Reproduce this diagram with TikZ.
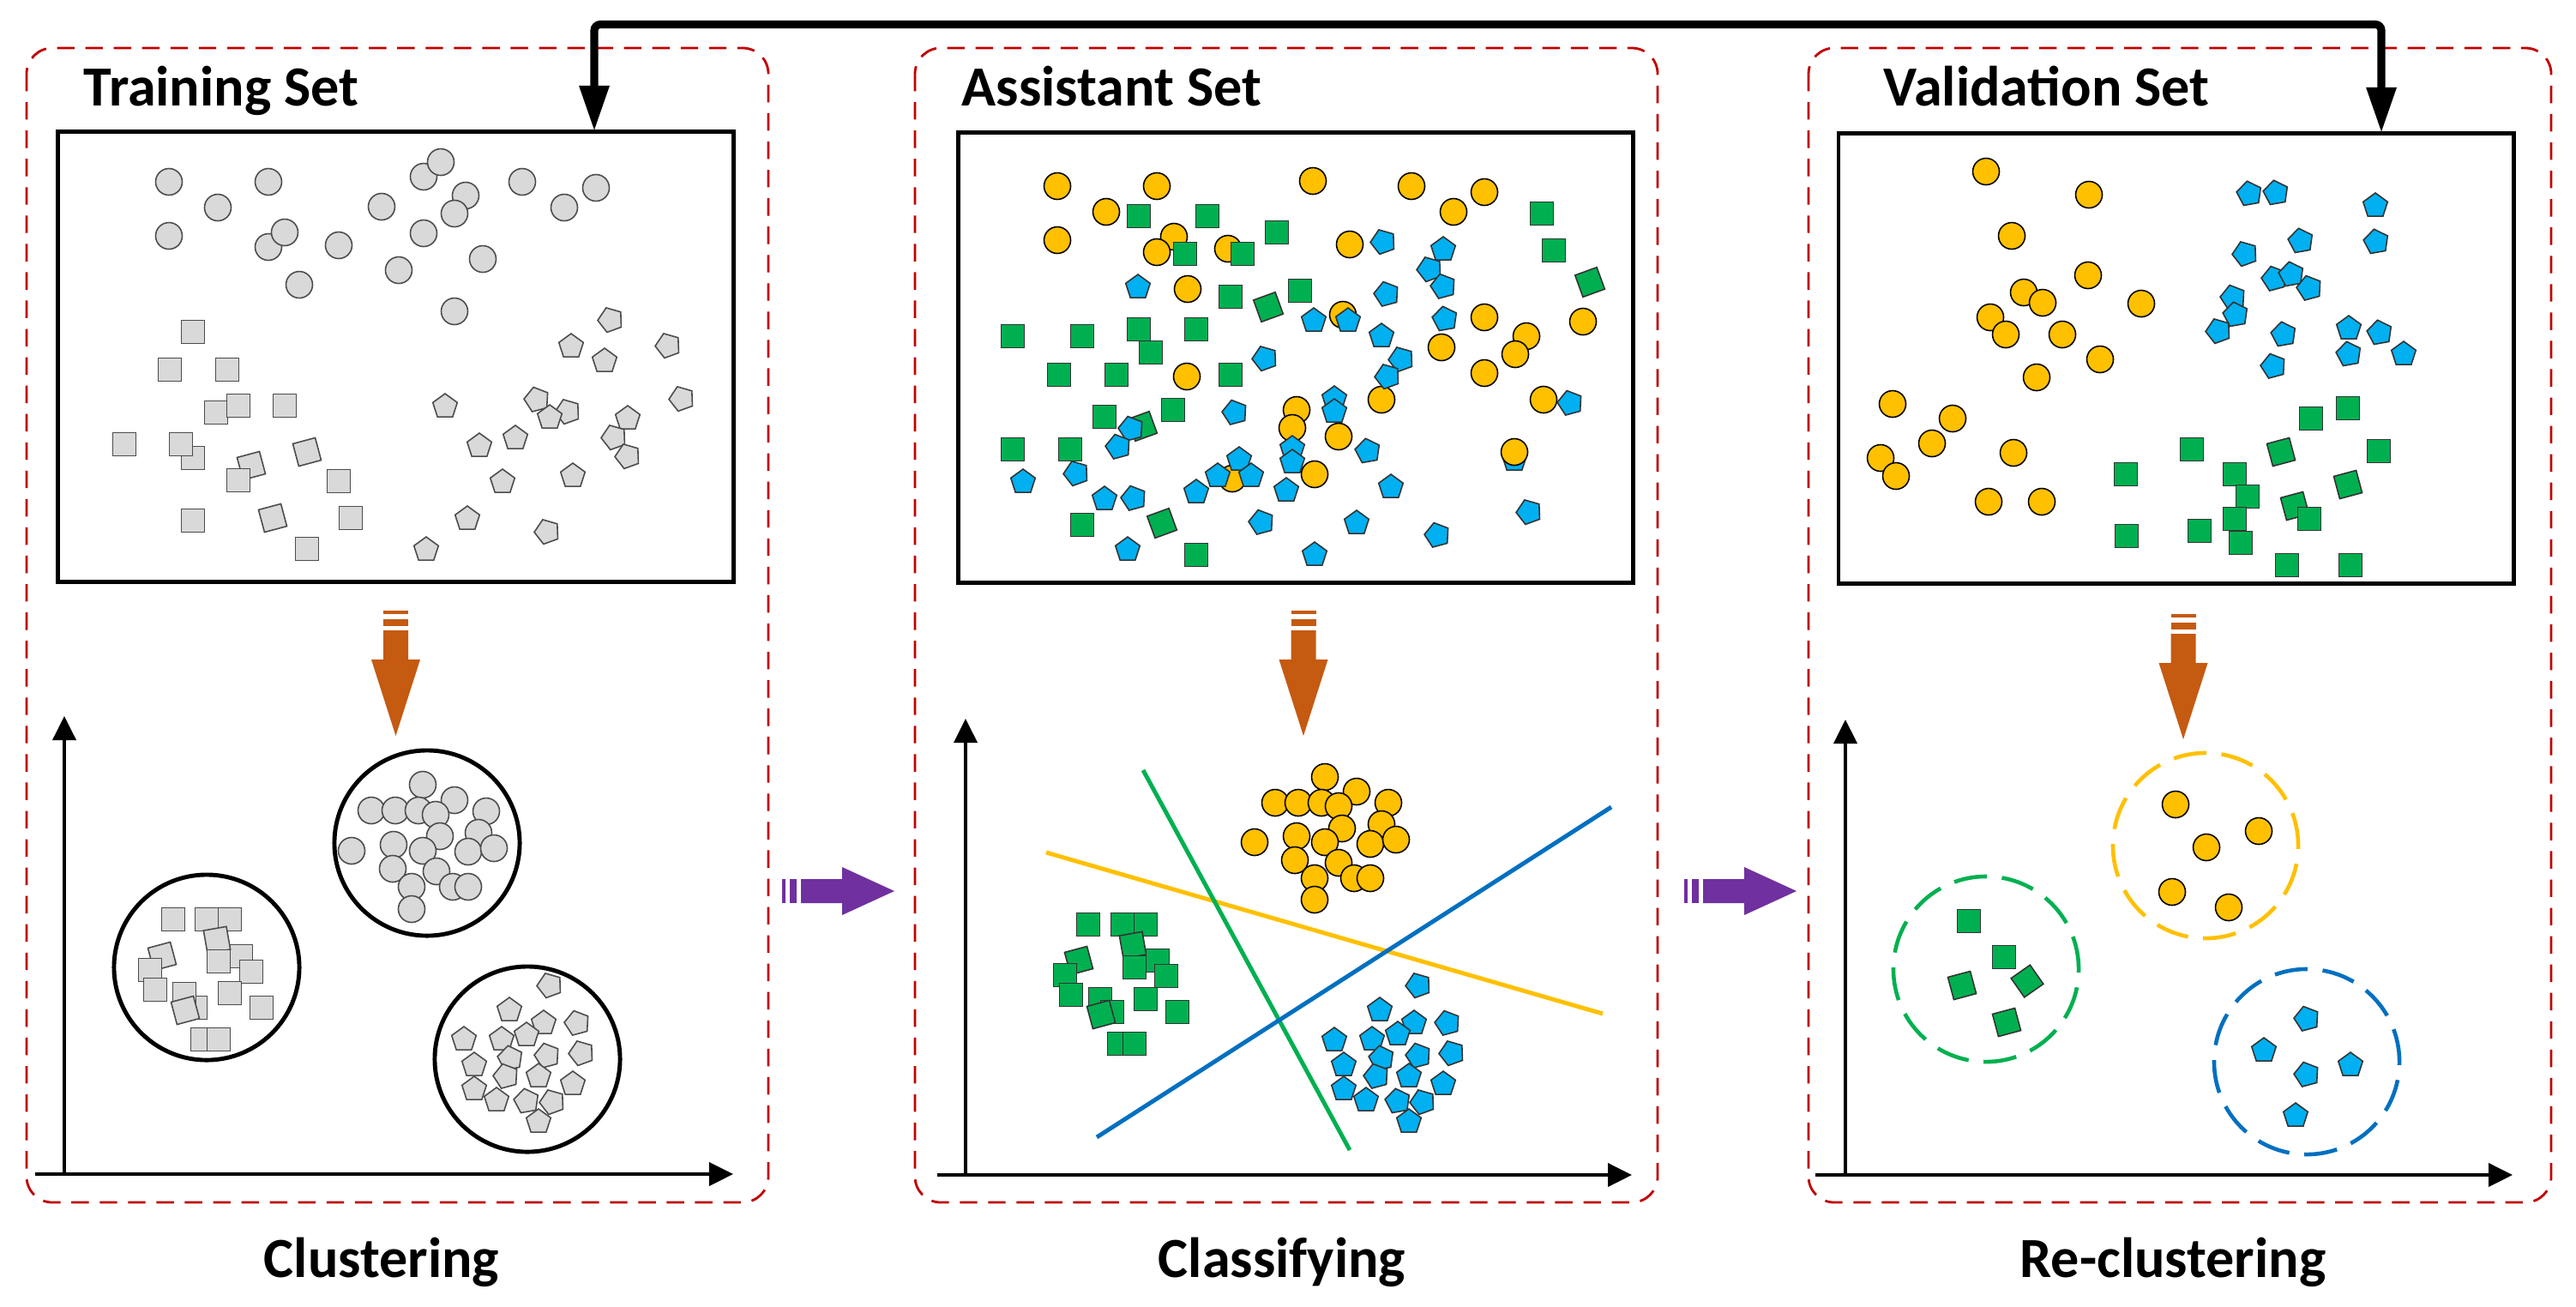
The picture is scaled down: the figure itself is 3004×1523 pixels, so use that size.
\documentclass[tikz,border=0pt]{standalone}
\usepackage{fontspec}
\setmainfont{Carlito}
\usetikzlibrary{arrows.meta}
\definecolor{cgray}{HTML}{D9D9D9}
\definecolor{cyel}{HTML}{FFC000}
\definecolor{cgrn}{HTML}{00B050}
\definecolor{cblu}{HTML}{00B0F0}
\definecolor{dblu}{HTML}{0070C0}
\definecolor{corg}{HTML}{C55A11}
\definecolor{cpur}{HTML}{7030A0}
\definecolor{dred}{HTML}{C00000}
\tikzset{
  panel/.style={draw=dred, line width=0.8pt, dash pattern=on 5.8pt off 3.6pt, rounded corners=0.3cm},
  databox/.style={draw=black, line width=1.3pt, fill=none, inner sep=0pt, minimum width=7.87cm, minimum height=5.25cm},
  settitle/.style={font=\bfseries\fontsize{18.8pt}{22pt}\selectfont, inner sep=0pt, anchor=base west},
  steplabel/.style={font=\bfseries\fontsize{18.8pt}{22pt}\selectfont, inner sep=0pt, anchor=base},
  axis/.style={line width=1.1pt, -{Triangle[width=0.27cm,length=0.28cm]}},
  feedback/.style={line width=2.6pt, {Triangle[width=0.33cm,length=0.53cm]}-{Triangle[width=0.33cm,length=0.53cm]}, rounded corners=2pt},
  gcirc/.style={fill=cgray, draw=black!70, line width=0.45pt},
  gshape/.style={fill=cgray, draw=black!70, line width=0.45pt},
  ycirc/.style={fill=cyel, draw=black, line width=0.45pt},
  gsq/.style={fill=cgrn, draw=black!80, line width=0.45pt},
  bpen/.style={fill=cblu, draw=black!80, line width=0.45pt},
  cluster/.style={draw=black, line width=1.4pt},
  dcluster/.style={line width=1.3pt, dash pattern=on 11pt off 5pt},
  sepline/.style={line width=1.4pt},
}
\newcommand\circs[2]{\foreach \x/\y in {#2} \draw[#1] (\x,\y) circle[radius=0.155cm];}
\newcommand\squares[2]{\foreach \x/\y/\r in {#2} \draw[#1] (\x,\y) +(45+\r:0.191cm) -- +(135+\r:0.191cm) -- +(225+\r:0.191cm) -- +(315+\r:0.191cm) -- cycle;}
\newcommand\pents[2]{\foreach \x/\y/\r in {#2} \draw[#1] (\x,\y) +(90+\r:0.15cm) -- +(162+\r:0.15cm) -- +(234+\r:0.15cm) -- +(306+\r:0.15cm) -- +(378+\r:0.15cm) -- cycle;}
\newcommand\orangearrow[2]{%
  \begin{scope}[shift={(#1,#2)}]
    \fill[corg] (-14.5,712) rectangle (14.5,716);
    \fill[corg] (-14.5,722) rectangle (14.5,730);
    \fill[corg] (-14.5,735) -- (14.5,735) -- (14.5,769) -- (28.5,769) -- (0,858) -- (-28.5,769) -- (-14.5,769) -- cycle;
  \end{scope}}
\newcommand\purplearrow[1]{%
  \begin{scope}[shift={(#1,0)}]
    \fill[cpur] (912,1025) rectangle (916,1053);
    \fill[cpur] (921,1025) rectangle (929,1053);
    \fill[cpur] (934,1025) -- (982,1025) -- (982,1011) -- (1043,1039) -- (982,1067) -- (982,1053) -- (934,1053) -- cycle;
  \end{scope}}
\begin{document}
\begin{tikzpicture}[x=0.01cm, y=-0.01cm]
\useasboundingbox (0,0) rectangle (3004,1523);
\fill[white] (0,0) rectangle (3004,1523);

% panels
\draw[panel] (31,56) rectangle (896,1402);
\draw[panel] (1067,56) rectangle (1933,1402);
\draw[panel] (2109,56) rectangle (2975,1402);

% titles
\node[settitle] (t1) at (97,123) {Training Set};
\node[settitle] (t2) at (1121,123) {Assistant Set};
\node[settitle] (t3) at (2196,123) {Validation Set};

% data boxes
\node[databox] (box1) at (461.5,416) {};
\node[databox] (box2) at (1511,417) {};
\node[databox] (box3) at (2537.5,418) {};

% feedback arrow
\coordinate (fb1) at (693,153);
\coordinate (fb3) at (2777,155);
\draw[feedback] (fb1) -- (693,28.5) -- (2777,28.5) -- (fb3);

% ---------- panel 1 scatter ----------
\circs{gcirc}{197/212,313/212,254/242,197/275,313/288,332/271,395/286,349/332,445/241,465/315,494/206,514/189,543/228,530/249,494/272,563/302,530/363,609/212,658/242,695/219}
\squares{gshape}{225/387/0,198/431/0,265/431/0,252/481/0,278/473/0,332/473/0,145/518/0,225/534/0,211/518/0,293/543/15,278/560/0,358/527/15,395/561/0,225/607/0,318/604/15,409/604/0,358/640/0}
\pents{gshape}{712/373/20,666/404/0,705/421/0,779/403/20,795/465/20,519/474/0,626/466/15,662/480/20,641/487/0,732/488/0,716/510/20,732/532/20,601/511/0,559/520/0,586/562/0,668/555/0,545/605/0,638/620/20,497/641/0}

% ---------- panel 2 scatter ----------
\pents{bpen}{1766/536/0}
\circs{ycirc}{1233/217,1349/217,1531/211,1646/217,1731/224,1290/247,1695/247,1233/280,1369/276,1349/294,1432/290,1574/285,1385/337,1566/367,1731/370,1846/375,1780/392,1767/413,1681/405,1731/435,1384/439,1611/466,1800/466,1512/478,1507/499,1561/509,1766/527,1533/553,1437/558}
\squares{gsq}{1328/252/0,1408/252/0,1489/271/0,1382/296/0,1449/296/0,1798/249/0,1812/292/0,1854/329/20,1435/346/0,1516/339/0,1479/358/20,1181/392/0,1262/392/0,1328/384/0,1395/384/0,1342/411/0,1235/437/0,1302/437/0,1435/437/0,1288/486/0,1368/478/0,1332/497/20,1181/524/0,1248/524/0,1262/612/0,1355/610/20,1395/647/0}
\pents{bpen}{1613/282/20,1683/291/0,1667/314/20,1683/334/15,1327/335/0,1617/343/15,1532/374/0,1572/374/0,1685/372/10,1611/392/0,1475/418/20,1634/419/20,1618/439/20,1556/465/0,1556/480/0,1440/481/15,1831/470/15,1319/500/15,1304/521/15,1507/523/0,1595/526/10,1507/539/0,1445/536/0,1420/555/0,1459/555/0,1193/562/0,1255/552/20,1288/582/0,1322/581/15,1395/574/0,1500/572/0,1622/568/0,1783/597/20,1471/609/15,1582/610/0,1676/624/15,1315/641/0,1533/647/0}

% ---------- panel 3 scatter ----------
\circs{ycirc}{2316/200,2436/227,2346/275,2435/321,2360/341,2382/353,2497/354,2321/370,2339/390,2405/390,2449/419,2375/440,2207/471,2277/488,2253/517,2193/534,2211/555,2348/528,2319/585,2381/585}
\pents{bpen}{2623/226/10,2654/225/10,2770/240/0,2683/281/10,2771/282/10,2618/296/20,2652/325/15,2672/320/10,2693/336/15,2604/347/15,2607/367/10,2587/386/20,2663/390/10,2739/383/0,2775/388/10,2739/413/10,2803/413/0,2651/427/15}
\squares{gsq}{2738/476/0,2695/488/0,2556/524/0,2660/527/15,2774/526/0,2479/553/0,2606/553/0,2621/579/0,2738/565/15,2676/590/15,2693/605/0,2606/605/0,2565/619/0,2613/633/0,2480/625/0,2667/659/0,2741/659/0}

% orange arrows
\orangearrow{461.5}{0}
\orangearrow{1520}{0}
\orangearrow{2546}{4}

% purple arrows
\purplearrow{0}
\purplearrow{1052}

% axes
\draw[axis] (75,1369) -- (75,835);
\draw[axis] (41,1369) -- (855,1369);
\draw[axis] (1126,1370) -- (1126,838);
\draw[axis] (1093,1370) -- (1903,1370);
\draw[axis] (2152,1370) -- (2152,839);
\draw[axis] (2117,1370) -- (2930,1370);

% ---------- panel 1 clusters ----------
\draw[cluster] (498,983) circle[radius=1.08cm];
\draw[cluster] (241,1128) circle[radius=1.08cm];
\draw[cluster] (615,1235) circle[radius=1.08cm];
\circs{gcirc}{493/915,433/945,461/945,488/945,530/933,567/946,508/950,558/971,513/975,459/985,410/992,493/992,546/993,576/989,458/1013,509/1016,480/1034,528/1034,546/1034,480/1060}
\squares{gshape}{202/1072/0,241/1072/0,268/1072/0,189/1115/15,281/1115/0,253/1096/10,255/1121/0,175/1131/0,293/1133/0,181/1154/0,228/1175/0,215/1159/0,216/1178/15,268/1158/0,305/1175/0,236/1212/0,255/1212/0}
\pents{gshape}{641/1149/20,594/1178/0,634/1193/0,673/1193/15,614/1207/0,541/1212/0,585/1212/0,678/1228/20,638/1231/15,595/1234/10,553/1242/0,590/1255/15,628/1255/0,553/1270/0,668/1264/0,579/1283/0,614/1284/10,644/1285/20,628/1308/0}

% ---------- panel 2 classes ----------
\circs{ycirc}{1545/906,1487/936,1514/936,1541/936,1582/923,1619/936,1561/940,1611/961,1565/966,1512/975,1463/982,1545/982,1598/984,1628/979,1510/1003,1561/1006,1533/1024,1579/1024,1598/1024,1533/1049}
\squares{gsq}{1269/1078/0,1309/1078/0,1336/1078/0,1321/1102/10,1258/1120/15,1350/1120/0,1323/1128/0,1242/1137/0,1360/1138/0,1249/1160/0,1283/1165/0,1336/1165/0,1297/1180/0,1284/1183/15,1373/1180/0,1305/1217/0,1323/1217/0}
\pents{bpen}{1654/1149/20,1609/1178/0,1649/1193/0,1688/1193/15,1630/1206/0,1556/1213/0,1600/1212/0,1693/1228/20,1654/1231/15,1611/1234/10,1567/1242/0,1605/1255/15,1643/1255/0,1567/1270/0,1683/1264/0,1593/1283/0,1630/1284/10,1659/1285/20,1643/1308/0}
\draw[sepline, cyel] (1220,994) -- (1869,1182);
\draw[sepline, cgrn] (1333,898) -- (1574,1341);
\draw[sepline, dblu] (1279,1326) -- (1879,941);

% ---------- panel 3 clusters ----------
\draw[dcluster, cyel] (2572,986) circle[radius=1.08cm];
\draw[dcluster, cgrn] (2316,1130) circle[radius=1.08cm];
\draw[dcluster, dblu] (2690,1238) circle[radius=1.08cm];
\circs{ycirc}{2537/938,2634/969,2573/988,2533/1040,2599/1058}
\squares{gsq}{2296/1074/0,2337/1116/0,2288/1149/15,2364/1144/35,2340/1192/15}
\pents{bpen}{2690/1188/15,2640/1225/0,2741/1242/0,2690/1253/15,2677/1301/0}

% step labels
\node[steplabel] (l1) at (445,1489) {Clustering};
\node[steplabel] (l2) at (1495,1489) {Classifying};
\node[steplabel] (l3) at (2534,1489) {Re-clustering};
\end{tikzpicture}
\end{document}
